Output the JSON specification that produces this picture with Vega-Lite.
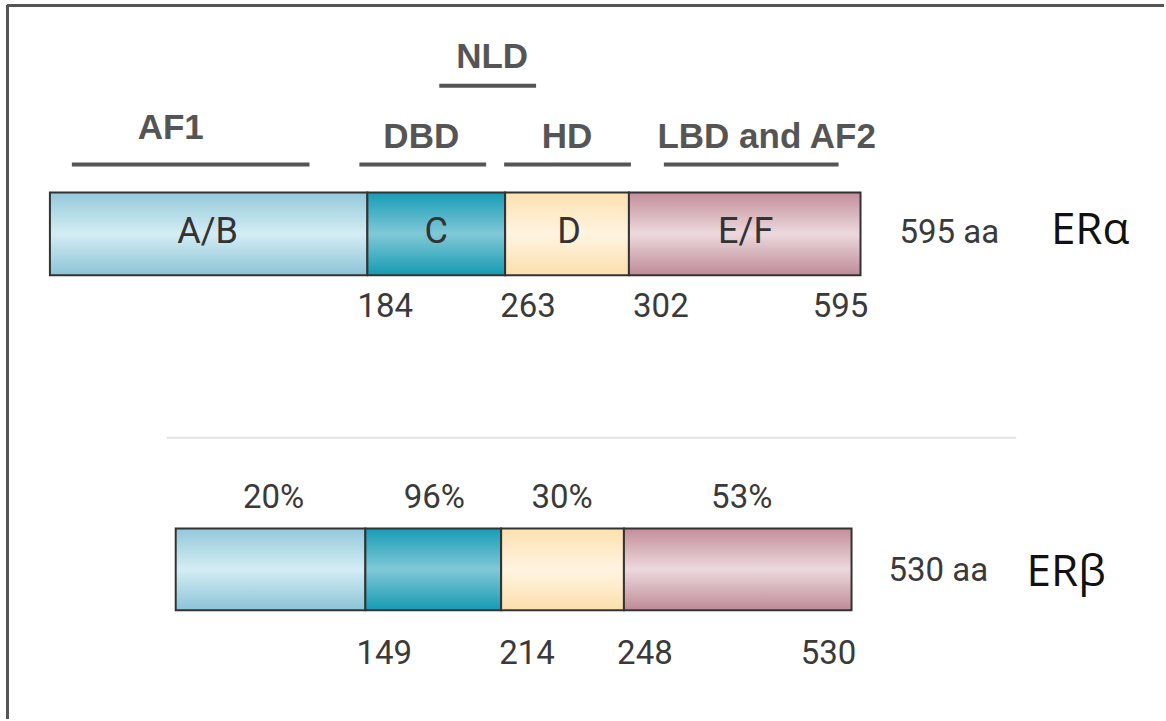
{
  "$schema": "https://vega.github.io/schema/vega-lite/v6.json",
  "width": 1166,
  "height": 721,
  "autosize": {"type": "fit", "contains": "padding"},
  "padding": 0,
  "background": "white",
  "config": {"view": {"stroke": null}},
  "datasets": {
    "segments": [
      {"protein": "ERα", "region": "AB", "start": 50, "end": 368, "top": 193, "bottom": 276},
      {"protein": "ERα", "region": "C", "start": 368, "end": 506, "top": 193, "bottom": 276},
      {"protein": "ERα", "region": "D", "start": 506, "end": 630, "top": 193, "bottom": 276},
      {"protein": "ERα", "region": "EF", "start": 630, "end": 862, "top": 193, "bottom": 276},
      {"protein": "ERβ", "region": "AB", "start": 176, "end": 366, "top": 530, "bottom": 612},
      {"protein": "ERβ", "region": "C", "start": 366, "end": 502, "top": 530, "bottom": 612},
      {"protein": "ERβ", "region": "D", "start": 502, "end": 625, "top": 530, "bottom": 612},
      {"protein": "ERβ", "region": "EF", "start": 625, "end": 853, "top": 530, "bottom": 612}
    ],
    "domainLabels": [
      {"text": "A/B", "pos": 208, "level": 233},
      {"text": "C", "pos": 437, "level": 233},
      {"text": "D", "pos": 570, "level": 233},
      {"text": "E/F", "pos": 747, "level": 233}
    ],
    "smallLabels": [
      {"text": "20%", "pos": 274, "level": 499},
      {"text": "96%", "pos": 435, "level": 499},
      {"text": "30%", "pos": 563, "level": 499},
      {"text": "53%", "pos": 743, "level": 499},
      {"text": "184", "pos": 386, "level": 308},
      {"text": "263", "pos": 529, "level": 308},
      {"text": "302", "pos": 662, "level": 308},
      {"text": "595", "pos": 842, "level": 308},
      {"text": "149", "pos": 385, "level": 656},
      {"text": "214", "pos": 528, "level": 656},
      {"text": "248", "pos": 646, "level": 656},
      {"text": "530", "pos": 830, "level": 656},
      {"text": "595 aa", "pos": 951, "level": 234},
      {"text": "530 aa", "pos": 940, "level": 573}
    ],
    "names": [
      {"text": "ERα", "pos": 1092, "level": 232},
      {"text": "ERβ", "pos": 1068, "level": 575}
    ],
    "functional": [
      {"text": "AF1", "pos": 171, "level": 128, "from": 72, "to": 310, "line": 165},
      {"text": "DBD", "pos": 422, "level": 137, "from": 360, "to": 487, "line": 165},
      {"text": "HD", "pos": 568, "level": 137, "from": 505, "to": 632, "line": 165},
      {"text": "LBD and AF2", "pos": 768, "level": 137, "from": 665, "to": 840, "line": 165},
      {"text": "NLD", "pos": 493, "level": 57, "from": 440, "to": 537, "line": 86}
    ],
    "frame": [
      {"from": 7, "to": 1166, "a": 5.5, "b": 5.5},
      {"from": 7.5, "to": 7.5, "a": 5, "b": 721}
    ],
    "separator": [
      {"from": 167, "to": 1018, "line": 439}
    ]
  },
  "layer": [
    {
      "data": {"name": "frame"},
      "mark": {"type": "rule", "color": "#555555", "strokeWidth": 3},
      "encoding": {
        "x": {"field": "from", "type": "quantitative", "scale": {"domain": [0, 1166], "nice": false, "zero": false}, "axis": null},
        "x2": {"field": "to"},
        "y": {"field": "a", "type": "quantitative", "scale": {"domain": [0, 721], "nice": false, "zero": false, "reverse": true}, "axis": null},
        "y2": {"field": "b"}
      }
    },
    {
      "data": {"name": "separator"},
      "mark": {"type": "rule", "color": "#e2e2e2", "strokeWidth": 2},
      "encoding": {
        "x": {"field": "from", "type": "quantitative"},
        "x2": {"field": "to"},
        "y": {"field": "line", "type": "quantitative"}
      }
    },
    {
      "data": {"name": "segments"},
      "transform": [{"filter": "datum.region == 'AB'"}],
      "mark": {"type": "rect", "stroke": "#333333", "strokeWidth": 2,
        "fill": {"gradient": "linear", "x1": 0, "y1": 0, "x2": 0, "y2": 1,
          "stops": [{"offset": 0, "color": "#93c8da"}, {"offset": 0.5, "color": "#d4edf4"}, {"offset": 1, "color": "#8cc4d7"}]}},
      "encoding": {
        "x": {"field": "start", "type": "quantitative"},
        "x2": {"field": "end"},
        "y": {"field": "top", "type": "quantitative"},
        "y2": {"field": "bottom"}
      }
    },
    {
      "data": {"name": "segments"},
      "transform": [{"filter": "datum.region == 'C'"}],
      "mark": {"type": "rect", "stroke": "#333333", "strokeWidth": 2,
        "fill": {"gradient": "linear", "x1": 0, "y1": 0, "x2": 0, "y2": 1,
          "stops": [{"offset": 0, "color": "#169db5"}, {"offset": 0.5, "color": "#80c8d7"}, {"offset": 1, "color": "#159bb3"}]}},
      "encoding": {
        "x": {"field": "start", "type": "quantitative"},
        "x2": {"field": "end"},
        "y": {"field": "top", "type": "quantitative"},
        "y2": {"field": "bottom"}
      }
    },
    {
      "data": {"name": "segments"},
      "transform": [{"filter": "datum.region == 'D'"}],
      "mark": {"type": "rect", "stroke": "#333333", "strokeWidth": 2,
        "fill": {"gradient": "linear", "x1": 0, "y1": 0, "x2": 0, "y2": 1,
          "stops": [{"offset": 0, "color": "#fde1b0"}, {"offset": 0.5, "color": "#fff4e1"}, {"offset": 1, "color": "#fcdfac"}]}},
      "encoding": {
        "x": {"field": "start", "type": "quantitative"},
        "x2": {"field": "end"},
        "y": {"field": "top", "type": "quantitative"},
        "y2": {"field": "bottom"}
      }
    },
    {
      "data": {"name": "segments"},
      "transform": [{"filter": "datum.region == 'EF'"}],
      "mark": {"type": "rect", "stroke": "#333333", "strokeWidth": 2,
        "fill": {"gradient": "linear", "x1": 0, "y1": 0, "x2": 0, "y2": 1,
          "stops": [{"offset": 0, "color": "#c38e9b"}, {"offset": 0.5, "color": "#ecd9dd"}, {"offset": 1, "color": "#bf8a97"}]}},
      "encoding": {
        "x": {"field": "start", "type": "quantitative"},
        "x2": {"field": "end"},
        "y": {"field": "top", "type": "quantitative"},
        "y2": {"field": "bottom"}
      }
    },
    {
      "data": {"name": "domainLabels"},
      "mark": {"type": "text", "font": "Roboto", "fontSize": 36, "color": "#333333", "align": "center", "baseline": "middle"},
      "encoding": {
        "x": {"field": "pos", "type": "quantitative"},
        "y": {"field": "level", "type": "quantitative"},
        "text": {"field": "text"}
      }
    },
    {
      "data": {"name": "smallLabels"},
      "mark": {"type": "text", "font": "Roboto", "fontSize": 33, "color": "#3a3a3a", "align": "center", "baseline": "middle"},
      "encoding": {
        "x": {"field": "pos", "type": "quantitative"},
        "y": {"field": "level", "type": "quantitative"},
        "text": {"field": "text"}
      }
    },
    {
      "data": {"name": "names"},
      "mark": {"type": "text", "font": "Open Sans", "fontSize": 44, "color": "#111111", "align": "center", "baseline": "middle"},
      "encoding": {
        "x": {"field": "pos", "type": "quantitative"},
        "y": {"field": "level", "type": "quantitative"},
        "text": {"field": "text"}
      }
    },
    {
      "data": {"name": "functional"},
      "mark": {"type": "rule", "color": "#555555", "strokeWidth": 4},
      "encoding": {
        "x": {"field": "from", "type": "quantitative"},
        "x2": {"field": "to"},
        "y": {"field": "line", "type": "quantitative"}
      }
    },
    {
      "data": {"name": "functional"},
      "mark": {"type": "text", "font": "Liberation Sans", "fontWeight": "bold", "fontSize": 35, "color": "#555555", "align": "center", "baseline": "middle"},
      "encoding": {
        "x": {"field": "pos", "type": "quantitative"},
        "y": {"field": "level", "type": "quantitative"},
        "text": {"field": "text"}
      }
    }
  ]
}
